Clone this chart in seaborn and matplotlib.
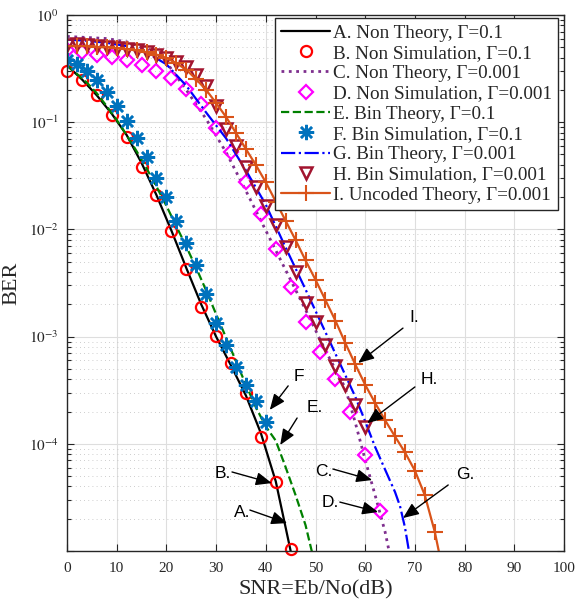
import matplotlib
matplotlib.use("Agg")
import matplotlib.pyplot as plt
import seaborn as sns
from matplotlib.ticker import LogLocator, NullFormatter, NullLocator

# ---------------- data (BER) ----------------
snr_A = [0, 3, 6, 9, 12, 15, 18, 21, 24, 27, 30, 33, 36, 39, 42, 45]
ber_A = [0.339, 0.251, 0.178, 0.120, 0.0759, 0.0417, 0.0209, 0.00977, 0.00437,
         0.00200, 0.00100, 5.37e-4, 2.82e-4, 1.26e-4, 4.47e-5, 1.0e-5]

snr_B = [0, 3, 6, 9, 12, 15, 18, 21, 24, 27, 30, 33, 36, 39, 42, 45]
ber_B = [0.30, 0.25, 0.18, 0.117, 0.073, 0.038, 0.021, 0.0097, 0.0043, 0.0019,
         0.00102, 5.7e-4, 3.0e-4, 1.15e-4, 4.4e-5, 1.05e-5]

snr_C = [0, 4, 8, 12, 16, 20, 24, 28, 32, 36, 40, 44, 48, 52, 56, 58, 60, 62, 64, 64.8]
ber_C = [0.631, 0.617, 0.603, 0.562, 0.479, 0.363, 0.200, 0.107, 0.0525, 0.0229,
         0.00977, 0.00417, 0.00178, 7.41e-4, 3.31e-4, 1.58e-4, 7.08e-5, 3.31e-5,
         1.51e-5, 1.0e-5]

snr_D = [0, 3, 6, 9, 12, 15, 18, 21, 24, 27, 30, 33, 36, 39, 42, 45, 48, 51, 54, 57, 60, 63]
ber_D = [0.468, 0.447, 0.427, 0.407, 0.380, 0.339, 0.302, 0.257, 0.204, 0.148,
         0.0891, 0.0525, 0.0275, 0.0138, 0.00661, 0.00288, 0.00138, 7.24e-4,
         3.98e-4, 2.0e-4, 7.94e-5, 2.34e-5]

snr_E = [0, 2, 4, 6, 8, 10, 12, 14, 16, 18, 20, 22, 24, 26, 28, 30, 32, 34, 36,
         38, 40, 42, 44, 46, 48, 49.5]
ber_E = [0.339, 0.282, 0.234, 0.186, 0.141, 0.105, 0.0759, 0.0537, 0.0372, 0.0251,
         0.0166, 0.0107, 0.00692, 0.00437, 0.00269, 0.00162, 9.77e-4, 5.89e-4,
         3.55e-4, 2.19e-4, 1.45e-4, 1.07e-4, 6.03e-5, 3.31e-5, 1.74e-5, 8.9e-6]

snr_F = [0, 2, 4, 6, 8, 10, 12, 14, 16, 18, 20, 22, 24, 26, 28, 30, 32, 34, 36, 38, 40]
ber_F = [0.38, 0.35, 0.30, 0.25, 0.19, 0.142, 0.103, 0.071, 0.047, 0.030, 0.020,
         0.012, 0.0075, 0.0047, 0.0025, 0.00134, 8.3e-4, 5.2e-4, 3.5e-4, 2.5e-4, 1.6e-4]

snr_G = [0, 4, 8, 12, 16, 20, 24, 28, 32, 36, 40, 44, 48, 52, 56, 58, 60, 62, 64,
         66, 67, 68, 68.8]
ber_G = [0.589, 0.575, 0.550, 0.513, 0.447, 0.347, 0.219, 0.123, 0.0708, 0.0355,
         0.0170, 0.00676, 0.00275, 0.00110, 4.37e-4, 2.75e-4, 1.62e-4, 9.33e-5,
         5.75e-5, 3.55e-5, 2.63e-5, 1.66e-5, 1.0e-5]

snr_H = [0, 2, 4, 6, 8, 10, 12, 14, 16, 18, 20, 22, 24, 26, 28, 30, 32, 34, 36,
         38, 40, 42, 44, 46, 48, 50, 52, 54, 56, 58, 60]
ber_H = [0.525, 0.537, 0.525, 0.513, 0.501, 0.490, 0.479, 0.468, 0.447, 0.427,
         0.398, 0.363, 0.324, 0.275, 0.219, 0.141, 0.0871, 0.0603, 0.0380, 0.0251,
         0.0166, 0.0110, 0.00692, 0.00398, 0.00204, 0.00138, 8.32e-4, 5.37e-4,
         3.55e-4, 2.29e-4, 1.45e-4]

snr_I = [0, 2, 4, 6, 8, 10, 12, 14, 16, 18, 20, 22, 24, 26, 28, 30, 32, 34, 36,
         38, 40, 42, 44, 46, 48, 50, 52, 54, 56, 58, 60, 62, 64, 66, 68, 70, 72,
         74, 74.8]
ber_I = [0.513, 0.513, 0.513, 0.501, 0.501, 0.490, 0.479, 0.468, 0.447, 0.427,
         0.398, 0.355, 0.309, 0.251, 0.200, 0.151, 0.112, 0.0794, 0.0562, 0.0398,
         0.0275, 0.0182, 0.0120, 0.00794, 0.00513, 0.00339, 0.00219, 0.00141,
         8.71e-4, 5.50e-4, 3.55e-4, 2.40e-4, 1.66e-4, 1.17e-4, 8.32e-5, 5.62e-5,
         3.31e-5, 1.51e-5, 1.0e-5]

labels = ["A. Non Theory, Γ=0.1", "B. Non Simulation, Γ=0.1",
          "C. Non Theory, Γ=0.001", "D. Non Simulation, Γ=0.001",
          "E. Bin Theory, Γ=0.1", "F. Bin Simulation, Γ=0.1",
          "G. Bin Theory, Γ=0.001", "H. Bin Simulation, Γ=0.001",
          "I. Uncoded Theory, Γ=0.001"]

x_ticks = [0, 10, 20, 30, 40, 50, 60, 70, 80, 90, 100]
y_ticks = [1e-5, 1e-4, 1e-3, 1e-2, 1e-1, 1]
y_ticklabels = ["", r"$10^{-4}$", r"$10^{-3}$", r"$10^{-2}$", r"$10^{-1}$", r"$10^{0}$"]

# annotation (text, text position, arrow tail, arrow tip) in data units
ann_text = ["I.", "H.", "F", "E.", "B.", "A.", "C.", "D.", "G."]
ann_textpos = [(69.8, 1.52e-3), (73.0, 3.94e-4), (46.7, 4.2e-4), (49.9, 2.16e-4),
               (31.4, 5.23e-5), (35.2, 2.31e-5), (51.7, 5.57e-5), (52.9, 2.81e-5),
               (80.1, 5.12e-5)]
ann_tail = [(67.6, 1.2e-3), (70.0, 3.39e-4), (44.5, 3.47e-4), (46.3, 1.74e-4),
            (33.2, 5.46e-5), (36.8, 2.41e-5), (53.5, 5.82e-5), (54.9, 2.86e-5),
            (76.7, 4.13e-5)]
ann_tip = [(58.6, 5.68e-4), (60.4, 1.56e-4), (40.8, 2.07e-4), (42.9, 9.75e-5),
           (41.2, 4.3e-5), (44.3, 1.82e-5), (61.4, 4.59e-5), (62.6, 2.31e-5),
           (67.6, 2.03e-5)]

# ---------------- styling ----------------
sns.set_style("ticks")
plt.rcParams["font.family"] = ["Liberation Serif", "DejaVu Serif"]
plt.rcParams["mathtext.fontset"] = "stix"

W, H = 577, 601
fig = plt.figure(figsize=(W / 100, H / 100), dpi=100)
ax = fig.add_axes([67 / W, 1 - 551 / H, 497 / W, 536 / H])

def line(x, y, label, **kw):
    sns.lineplot(x=x, y=y, ax=ax, label=label, estimator=None, sort=False, **kw)

line(snr_A, ber_A, labels[0], color="black", linewidth=1.6)
line(snr_B, ber_B, labels[1], color="red", linestyle="none", marker="o",
     markersize=8, markerfacecolor="none", markeredgecolor="red",
     markeredgewidth=1.6, clip_on=False)
line(snr_C, ber_C, labels[2], color="#7E2F8E", linestyle=":", linewidth=2.0)
line(snr_D, ber_D, labels[3], color="#FF00FF", linestyle="none", marker="D",
     markersize=7, markerfacecolor="none", markeredgecolor="#FF00FF",
     markeredgewidth=1.6)
line(snr_E, ber_E, labels[4], color="#008000", linestyle="--", linewidth=1.6)
line(snr_F, ber_F, labels[5], color="#0072BD", linestyle="none", marker=(8, 2, 0),
     markersize=11, markerfacecolor="none", markeredgecolor="#0072BD",
     markeredgewidth=1.8)
line(snr_G, ber_G, labels[6], color="#0000FF", linestyle="-.", linewidth=1.6)
line(snr_H, ber_H, labels[7], color="#A2142F", linestyle="none", marker="v",
     markersize=9, markerfacecolor="none", markeredgecolor="#A2142F",
     markeredgewidth=1.8)
line(snr_I, ber_I, labels[8], color="#D95319", linewidth=1.6, marker="+",
     markersize=12, markeredgecolor="#D95319", markeredgewidth=1.5,
     markevery=slice(0, len(snr_I) - 1))

ax.set_yscale("log")
ax.set_xlim(0, 100)
ax.set_ylim(1e-5, 1)
ax.set_xticks(x_ticks)
ax.set_xticklabels([str(t) for t in x_ticks])
ax.set_yticks(y_ticks)
ax.set_yticklabels(y_ticklabels)
ax.yaxis.set_minor_locator(LogLocator(base=10, subs=[2, 3, 4, 5, 6, 7, 8, 9], numticks=20))
ax.yaxis.set_minor_formatter(NullFormatter())
ax.xaxis.set_minor_locator(NullLocator())

dark = "#262626"
for s in ax.spines.values():
    s.set_color(dark)
    s.set_linewidth(1.0)
ax.tick_params(which="both", direction="in", top=True, right=True, colors=dark,
               labelcolor=dark, width=0.8)
ax.tick_params(which="major", length=5, labelsize=11)
ax.tick_params(axis="x", which="major", pad=8)
ax.tick_params(axis="y", which="major", pad=6)
ax.tick_params(which="minor", length=3)

ax.set_axisbelow(True)
ax.grid(which="major", axis="both", color="#dedede", linewidth=0.8, linestyle="-")
ax.grid(which="minor", axis="y", color="#bdbdbd", linewidth=0.6, linestyle=(0, (1, 4)))

ax.set_xlabel("SNR=Eb/No(dB)", fontsize=16, color=dark, labelpad=4)
ax.set_ylabel("BER", fontsize=16, color=dark, labelpad=5)

for t, tp, ta, tip in zip(ann_text, ann_textpos, ann_tail, ann_tip):
    ax.annotate("", xy=tip, xytext=ta,
                arrowprops=dict(arrowstyle="-|>,head_length=0.6,head_width=0.25",
                                mutation_scale=16, lw=1.0, color="black",
                                shrinkA=0, shrinkB=0))
    ax.text(tp[0], tp[1], t, fontsize=12.5, family=["Liberation Sans", "DejaVu Sans"],
            ha="center", va="center", color="black")

leg = ax.legend(loc="upper right", bbox_to_anchor=(1 - 6 / 497, 1 - 3 / 536),
                borderaxespad=0, frameon=True, fancybox=False, edgecolor=dark,
                framealpha=1, fontsize=13.8, handlelength=2.55, handletextpad=0.15,
                labelspacing=0.15, borderpad=0.32)
leg.get_frame().set_linewidth(1.0)

fig.savefig("out.png", dpi=100)
